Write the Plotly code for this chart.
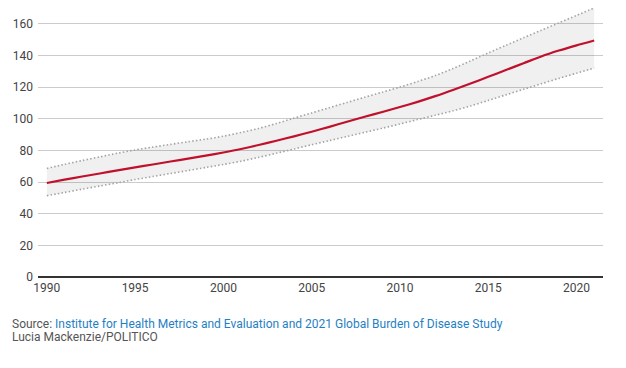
import plotly.graph_objects as go

years = list(range(1990, 2022))
central = [59.4, 61.5, 63.5, 65.4, 67.4, 69.3, 71.1, 73.0, 74.8, 76.7,
           78.7, 80.9, 83.4, 86.1, 88.9, 91.8, 94.9, 98.1, 101.3, 104.3,
           107.4, 110.7, 114.3, 118.2, 122.3, 126.5, 130.8, 135.1, 139.4, 143.1,
           146.4, 149.5]
upper = [68.6, 71.2, 73.6, 75.9, 78.2, 80.3, 82.1, 83.8, 85.5, 87.1,
         89.0, 91.3, 93.9, 97.0, 100.4, 103.7, 107.0, 110.3, 113.6, 116.8,
         120.0, 123.5, 127.3, 131.7, 136.6, 141.6, 146.4, 151.2, 155.9, 160.6,
         165.3, 170.0]
lower = [51.4, 53.4, 55.5, 57.5, 59.5, 61.6, 63.5, 65.4, 67.3, 69.2,
         71.1, 73.2, 75.6, 78.2, 80.9, 83.6, 86.2, 88.8, 91.4, 94.0,
         96.7, 99.5, 102.2, 105.0, 108.1, 111.6, 115.1, 118.6, 122.1, 125.5,
         128.8, 132.0]
x_ticks = [1990, 1995, 2000, 2005, 2010, 2015, 2020]
y_ticks = [0, 20, 40, 60, 80, 100, 120, 140, 160]

band_line = dict(color="#a4a4a4", width=1.6, dash="1.5px,2.2px",
                 shape="spline", smoothing=0.8)

fig = go.Figure()
fig.add_trace(go.Scatter(x=years, y=lower, mode="lines", line=band_line,
                         hoverinfo="skip", showlegend=False))
fig.add_trace(go.Scatter(x=years, y=upper, mode="lines", line=band_line,
                         fill="tonexty", fillcolor="rgba(0,0,0,0.06)",
                         hoverinfo="skip", showlegend=False))
fig.add_trace(go.Scatter(x=years, y=central, mode="lines",
                         line=dict(color="#c0102c", width=2.2,
                                   shape="spline", smoothing=0.8),
                         showlegend=False))

fig.update_layout(
    width=610, height=352,
    margin=dict(l=30, r=15, t=0, b=83),
    plot_bgcolor="white", paper_bgcolor="white",
    font=dict(family="Roboto, 'DejaVu Sans', sans-serif", size=12, color="#444"),
    xaxis=dict(range=[1989.5, 2021.5], tickvals=x_ticks, showgrid=False,
               zeroline=False, showline=False, ticks="", fixedrange=True,
               automargin=False, ticklabelstandoff=2),
    yaxis=dict(range=[0, 170], tickvals=y_ticks, showgrid=True,
               gridcolor="#cbcbcb", gridwidth=1.3, zeroline=True,
               zerolinecolor="#333", zerolinewidth=2, ticks="",
               showline=False, fixedrange=True, automargin=False,
               ticklabelstandoff=4),
    annotations=[
        dict(xref="paper", yref="paper", x=-0.049, y=-0.175,
             xanchor="left", yanchor="middle", showarrow=False,
             text="<span style='color:#555'>Source:</span> <span style='color:#1f7fc4'>Institute for Health Metrics and Evaluation and 2021 Global Burden of Disease Study</span>",
             font=dict(size=12)),
        dict(xref="paper", yref="paper", x=-0.049, y=-0.223,
             xanchor="left", yanchor="middle", showarrow=False,
             text="Lucia Mackenzie/POLITICO",
             font=dict(size=12, color="#555")),
    ],
)

fig.write_html("out.html")
